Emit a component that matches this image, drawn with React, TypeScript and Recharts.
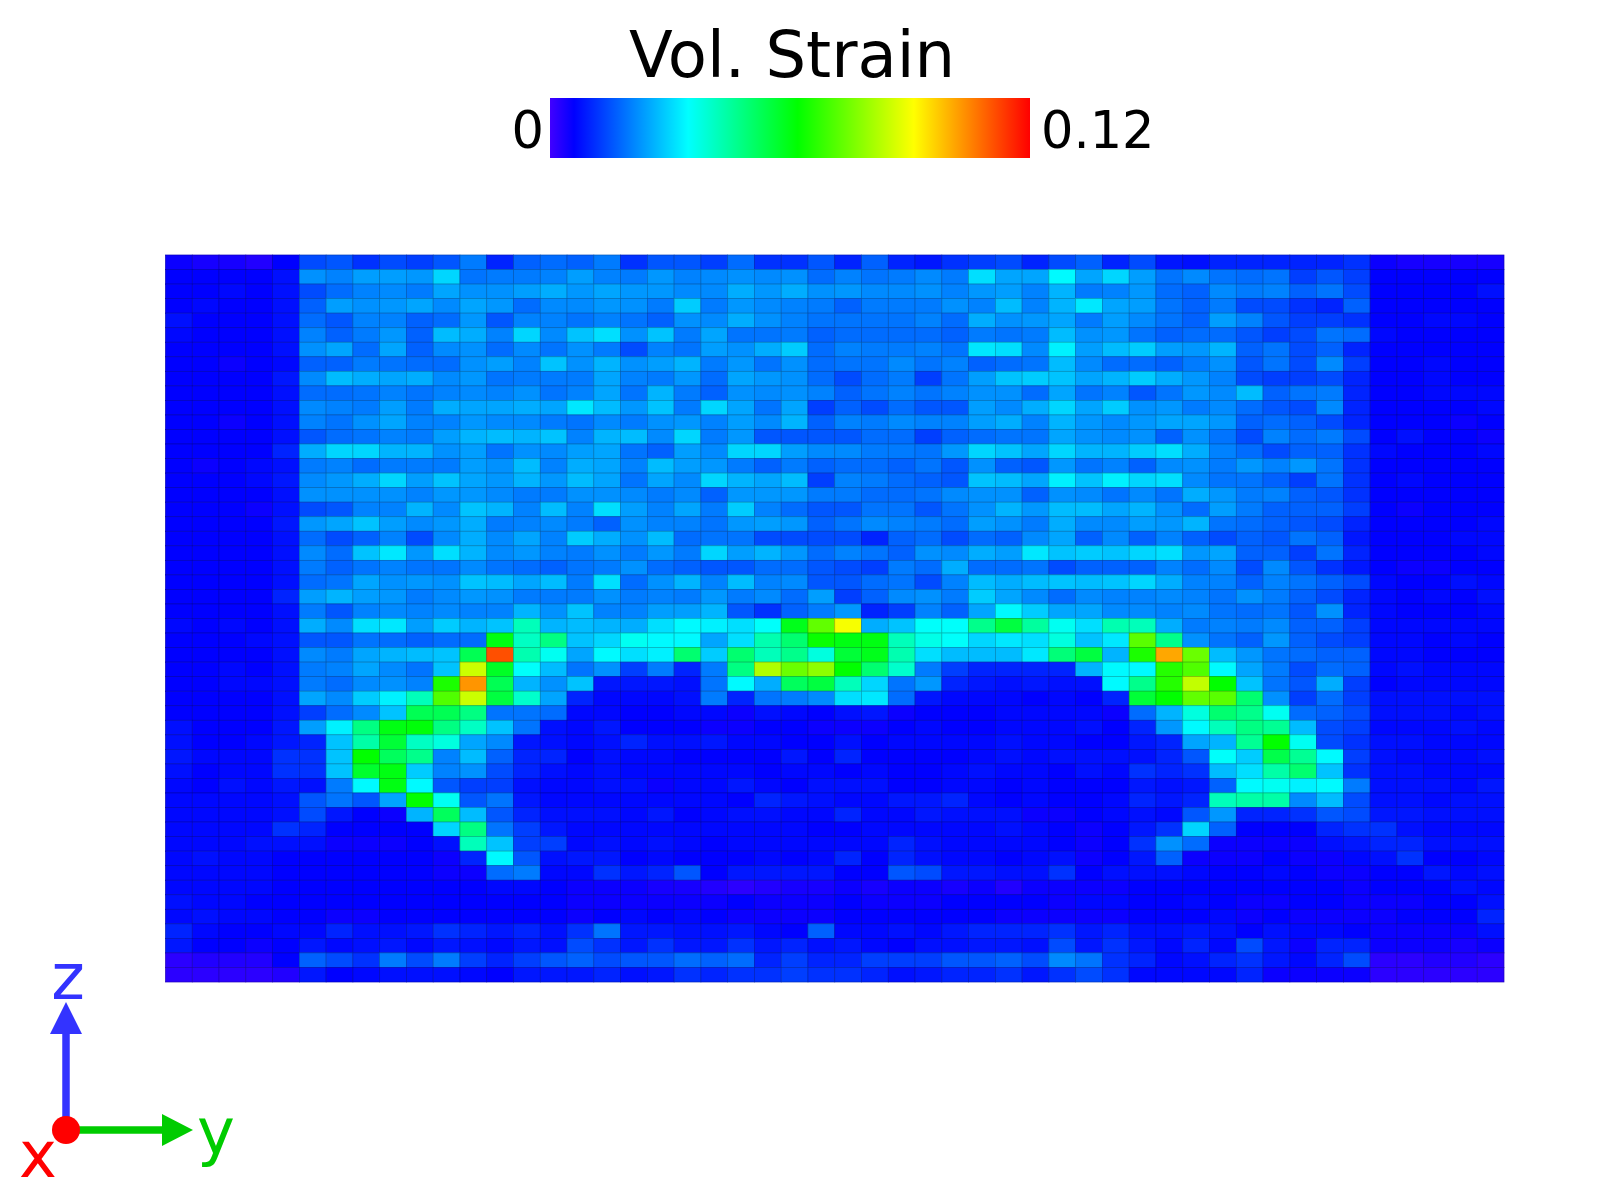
import { ScatterChart, Scatter, XAxis, YAxis } from "recharts";

const STRAIN_MAX = 120; // table values are strain x 1000

// one row per z layer, top of the picture first, 50 values along y
const strainRows: number[][] = [
  [5,4,4,3,6,13,14,11,13,12,14,18,10,15,16,15,18,11,14,14,12,16,11,11,14,10,15,10,9,11,12,13,10,13,15,10,13,9,8,10,10,10,10,10,11,5,4,4,4,4],
  [6,6,6,6,8,21,19,23,23,22,30,17,18,18,19,23,19,18,22,19,20,21,20,21,16,19,17,18,20,18,31,24,24,34,24,30,23,17,20,17,16,17,12,14,12,6,6,6,6,6],
  [6,6,7,6,8,13,16,19,20,18,24,21,21,23,25,22,24,22,22,20,20,25,22,25,21,22,20,20,21,19,22,23,19,26,18,19,22,16,15,20,18,19,15,17,13,6,6,6,6,8],
  [6,7,6,6,8,15,23,21,22,24,20,24,22,16,20,20,22,21,18,29,18,22,20,19,18,15,18,18,18,21,19,27,19,26,32,24,23,17,15,18,13,13,11,10,15,6,6,6,6,6],
  [8,6,6,6,8,16,14,19,19,15,16,22,14,19,19,17,19,17,15,21,20,25,21,19,17,17,17,17,19,16,25,21,22,24,18,23,20,17,15,23,19,14,12,12,11,6,6,7,7,6],
  [7,6,6,6,8,19,15,18,22,15,27,25,19,30,20,28,31,21,28,18,24,17,17,18,15,16,16,16,16,15,18,17,18,27,21,22,17,15,16,16,14,12,13,17,16,7,6,6,6,6],
  [6,6,6,6,8,21,24,16,24,15,20,21,16,20,17,21,18,13,19,17,23,21,25,29,16,19,18,18,19,17,32,31,20,33,23,27,29,23,22,26,15,17,13,15,10,6,6,6,6,6],
  [6,6,5,6,7,15,15,18,17,16,16,21,23,19,28,21,26,21,23,26,18,22,17,21,16,17,17,20,17,19,15,16,17,27,20,16,16,15,18,21,14,17,13,20,12,6,6,7,6,6],
  [6,6,6,6,9,20,27,25,24,25,20,22,17,18,18,18,24,19,18,22,16,24,22,21,16,13,16,18,12,17,23,28,29,28,24,26,29,25,22,19,13,12,12,13,10,6,6,7,6,6],
  [6,6,6,6,8,16,16,17,19,17,19,20,19,21,17,19,24,17,26,18,15,21,20,21,19,15,17,19,17,19,21,21,16,24,17,19,14,17,22,20,27,15,17,18,10,6,6,7,7,7],
  [6,6,6,6,8,20,19,18,23,18,25,24,24,25,24,32,27,22,28,18,30,24,17,24,12,15,13,16,14,14,23,20,25,30,24,29,21,22,18,20,16,14,13,20,10,6,6,6,6,7],
  [6,6,5,6,8,19,17,21,24,19,19,22,20,20,18,17,20,18,21,22,19,23,20,26,15,19,18,20,19,19,23,25,19,26,22,20,22,24,24,22,15,16,15,13,10,6,6,6,5,6],
  [6,6,6,6,8,14,16,17,19,18,23,26,27,26,28,19,26,27,20,30,18,22,14,14,14,14,16,16,12,15,16,17,17,24,21,20,21,15,21,17,13,19,16,18,13,6,8,6,6,5],
  [6,6,6,6,10,25,30,30,26,26,21,23,17,21,20,23,24,17,15,23,20,30,30,23,20,20,18,18,17,22,30,28,24,30,26,26,29,31,25,19,16,13,15,15,11,7,6,6,6,7],
  [6,5,6,7,8,18,19,16,18,18,18,23,21,27,19,25,24,19,27,23,22,18,15,18,15,16,16,15,17,14,21,15,14,22,17,19,15,20,21,18,22,19,22,17,11,6,6,6,6,6],
  [6,6,6,7,9,20,22,25,30,23,28,24,22,26,22,27,24,17,24,20,30,26,24,27,12,19,18,16,15,14,28,27,24,33,28,33,30,31,20,17,17,15,12,17,11,6,7,6,6,6],
  [6,6,6,6,8,21,21,21,21,19,22,22,20,18,18,21,21,20,18,20,15,22,22,22,18,18,16,16,17,20,21,21,15,21,20,17,20,17,25,22,18,19,15,14,11,6,6,6,6,6],
  [6,6,6,5,8,13,14,19,19,26,20,28,26,19,27,19,31,23,19,24,18,29,19,16,14,14,17,17,14,17,21,26,22,27,27,24,26,21,16,23,18,15,15,15,12,6,5,6,6,6],
  [6,6,6,6,9,22,24,28,23,20,22,25,18,19,20,18,15,21,19,19,17,22,23,22,15,17,20,19,18,16,23,21,18,25,20,20,23,22,26,17,16,15,14,13,10,6,6,6,6,7],
  [6,6,6,6,8,16,13,15,19,13,20,25,20,24,19,29,25,21,27,16,17,17,13,13,13,13,10,15,16,13,16,15,20,24,15,20,15,19,15,13,15,14,17,15,9,6,6,6,7,7],
  [6,6,6,6,8,20,16,28,32,22,31,26,20,22,19,18,21,18,22,18,30,23,26,22,16,19,17,15,21,20,25,23,32,28,29,28,30,31,22,24,15,15,12,17,10,6,6,6,6,7],
  [6,6,6,6,8,18,15,17,19,17,17,20,17,16,15,17,18,21,16,15,14,14,16,16,14,13,12,18,16,25,16,16,17,13,15,15,15,19,16,20,13,20,14,11,9,6,5,5,6,6],
  [6,6,6,6,8,16,17,24,21,22,21,28,27,24,27,18,31,16,21,26,19,27,19,20,14,14,16,17,13,19,27,25,27,28,27,28,30,25,19,19,15,19,17,15,13,7,6,6,8,7],
  [6,6,6,6,10,23,26,23,22,18,20,22,21,18,18,18,21,18,19,18,22,18,20,16,23,12,15,20,21,18,29,24,20,16,20,19,19,20,19,17,21,18,15,13,10,7,6,7,6,8],
  [6,6,6,6,8,18,14,19,20,19,20,19,19,26,21,28,19,19,23,23,26,14,11,15,18,22,10,12,19,15,24,34,29,24,24,20,20,19,20,17,16,17,14,21,10,7,6,6,6,7],
  [7,6,7,6,8,25,20,31,32,23,29,26,28,42,26,27,26,25,31,34,33,31,35,59,73,90,25,28,35,35,47,55,45,36,31,43,42,25,18,19,18,20,15,15,12,7,7,7,7,7],
  [6,6,6,7,8,14,14,17,16,15,16,16,60,41,48,28,30,36,34,34,24,31,43,50,63,60,60,42,37,35,30,32,31,38,28,32,72,47,21,17,15,22,15,13,12,7,7,6,7,6],
  [6,6,6,6,8,20,18,24,26,27,28,53,111,43,36,24,34,31,33,50,29,50,42,47,38,56,59,43,31,27,27,27,32,49,55,26,65,101,74,27,22,17,16,15,15,7,7,6,6,6],
  [6,6,7,6,8,18,19,24,20,17,28,85,58,35,27,17,21,12,18,10,18,48,82,74,78,62,50,40,18,12,10,10,10,10,26,34,34,66,71,34,24,18,13,16,15,7,8,7,7,7],
  [6,6,7,7,8,18,16,20,21,19,65,103,53,26,21,28,9,9,9,8,17,34,25,52,55,42,30,17,22,10,9,8,9,8,8,34,47,66,84,62,28,17,14,25,12,6,7,7,7,7],
  [6,6,6,6,8,24,20,29,33,42,71,85,55,40,24,10,7,7,7,8,18,10,17,18,20,31,32,16,9,7,7,7,6,7,6,10,56,62,73,72,50,21,12,16,12,8,8,8,8,8],
  [6,6,6,6,8,12,16,20,28,53,53,48,17,17,16,7,7,6,6,7,7,5,8,7,6,8,9,5,6,6,6,7,7,7,7,5,16,26,38,50,47,36,16,15,13,8,8,8,7,8],
  [8,6,6,6,9,23,33,48,60,61,48,41,28,17,8,7,9,6,6,6,5,5,6,6,5,5,5,6,7,6,6,7,7,7,8,6,10,22,34,42,48,46,27,13,12,7,7,7,8,7],
  [8,6,6,7,9,10,28,44,56,41,38,24,20,9,8,7,8,10,8,8,9,7,7,6,6,8,6,7,7,7,7,8,7,7,6,6,9,10,24,26,46,62,36,13,11,8,8,7,7,7],
  [9,7,7,7,11,11,28,62,52,47,19,27,15,10,10,6,8,7,7,6,6,6,6,9,6,10,6,6,6,6,7,8,7,8,8,8,8,10,14,35,29,54,46,34,12,8,7,7,7,8],
  [8,6,7,7,11,11,28,57,60,29,19,21,13,10,8,7,8,7,7,7,7,7,6,7,7,6,7,6,6,7,8,7,7,6,8,7,11,10,11,27,31,44,50,28,11,8,8,7,7,7],
  [7,6,8,7,9,8,18,34,60,34,14,12,12,8,7,7,8,8,5,7,7,9,7,6,8,8,8,6,6,7,7,6,7,6,6,6,9,8,9,15,34,36,33,34,18,8,8,8,7,9],
  [7,7,7,7,8,14,17,14,24,62,36,14,17,9,7,7,7,7,7,7,7,6,10,9,8,7,7,9,9,10,7,6,7,6,6,7,10,9,10,42,44,44,20,27,13,8,8,7,8,8],
  [7,7,7,7,8,13,9,6,5,26,52,27,14,10,8,8,8,7,9,6,7,8,8,7,7,10,7,7,9,8,8,8,5,5,6,7,8,7,14,22,10,10,11,14,13,9,9,8,8,8],
  [7,7,7,7,11,10,6,6,6,6,30,48,17,12,9,7,7,7,7,7,7,7,7,7,6,6,7,7,7,7,7,8,7,6,5,6,9,11,30,15,6,6,6,10,11,11,8,7,7,7],
  [7,7,7,8,8,8,5,5,5,6,8,42,28,12,12,7,8,7,8,7,6,7,7,7,7,7,7,10,8,7,7,7,7,6,5,6,11,21,16,5,5,5,5,8,9,10,10,8,8,8],
  [7,8,7,7,6,6,6,6,6,6,5,10,34,14,8,9,9,6,7,6,6,6,7,6,7,10,6,10,8,7,7,6,7,8,5,6,9,15,5,5,5,6,5,5,7,8,11,6,6,7],
  [7,7,7,7,6,6,6,6,6,6,5,5,16,18,7,7,11,9,10,14,6,9,9,9,9,6,6,14,13,9,9,8,8,11,6,8,8,8,7,6,6,7,6,5,5,6,6,9,7,8],
  [7,7,7,7,6,6,6,6,6,6,6,6,7,7,6,5,5,5,4,4,3,2,3,4,4,5,4,5,5,4,5,3,5,5,5,5,6,6,6,6,6,6,6,6,5,6,6,6,8,7],
  [8,7,7,6,6,6,6,6,6,6,6,6,6,6,6,5,5,5,5,5,5,6,5,5,5,6,5,5,5,6,6,6,6,5,7,7,6,6,7,6,5,5,6,6,5,5,5,6,6,8],
  [7,8,7,7,6,6,5,5,6,6,6,6,6,6,6,5,6,7,6,7,6,5,5,5,5,6,6,6,6,6,6,5,5,5,5,5,6,6,6,7,5,6,5,5,5,5,6,6,6,10],
  [10,7,6,6,7,7,10,8,8,9,11,10,9,10,8,11,17,9,9,8,8,9,7,6,15,7,7,8,7,9,10,10,10,11,9,10,8,8,9,8,6,8,7,7,6,5,5,5,5,8],
  [9,6,6,5,6,9,7,8,9,7,9,8,7,9,8,13,11,9,11,9,9,11,9,10,8,9,7,6,8,8,9,9,8,13,9,11,9,7,10,7,13,9,5,10,10,5,5,5,4,5],
  [2,3,3,3,6,15,13,11,18,13,18,12,10,12,14,15,13,14,14,16,15,16,10,12,10,10,12,12,12,14,14,15,13,20,17,11,10,7,8,10,11,9,7,10,13,2,2,3,3,2],
  [2,2,2,2,3,9,6,7,8,8,8,7,6,9,9,9,10,8,9,11,10,11,11,12,11,11,10,8,9,10,10,11,9,11,13,11,7,7,7,7,10,5,5,5,5,2,2,2,2,2],
];

// colour bar: [position 0..1, r, g, b]
const colorStops: number[][] = [
  [0, 65, 0, 255],
  [0.05, 0, 0, 255],
  [0.288, 0, 255, 255],
  [0.516, 0, 255, 0],
  [0.758, 255, 255, 0],
  [1, 255, 0, 0],
];

// my readings of the blue cells came out low, so the cells get extra stops there
const cellStops: number[][] = [
  [0, 65, 0, 255],
  [0.05, 0, 0, 255],
  [0.075, 0, 22, 255],
  [0.108, 0, 75, 255],
  [0.133, 0, 108, 255],
  [0.167, 0, 138, 255],
  [0.2, 0, 165, 255],
  [0.233, 0, 195, 255],
  [0.267, 0, 232, 255],
  [0.288, 0, 255, 255],
  [0.516, 0, 255, 0],
  [0.758, 255, 255, 0],
  [1, 255, 0, 0],
];

const colorBarTicks = ["0", "0.12"];
const FONT = "DejaVu Sans";

const W = 1600;
const H = 1200;
const PLOT = { left: 165.5, right: 1504, top: 255, bottom: 982 };
const CELL_W = (PLOT.right - PLOT.left) / 50;
const CELL_H = (PLOT.bottom - PLOT.top) / 50;

function strainRgb(v: number) {
  const t = Math.min(1, Math.max(0, v / STRAIN_MAX));
  for (let i = 1; i < cellStops.length; i++) {
    const a = cellStops[i - 1];
    const b = cellStops[i];
    if (t <= b[0]) {
      const f = (t - a[0]) / (b[0] - a[0]);
      return [1, 2, 3].map((k) => Math.round(a[k] + (b[k] - a[k]) * f));
    }
  }
  return [255, 0, 0];
}

const cells = strainRows.flatMap((row, r) =>
  row.map((strain, c) => ({ y: c + 0.5, z: r + 0.5, strain })),
);

function CellShape(props: any) {
  const { cx, cy, payload } = props;
  const [r, g, b] = strainRgb(payload.strain);
  return (
    <rect
      x={cx - CELL_W / 2}
      y={cy - CELL_H / 2}
      width={CELL_W}
      height={CELL_H}
      fill={`rgb(${r},${g},${b})`}
      stroke={`rgb(${r * 0.72},${g * 0.72},${b * 0.72})`}
      strokeWidth={0.7}
    />
  );
}

export default function App() {
  return (
    <div style={{ position: "absolute", left: 0, top: 0, width: W, height: H, background: "#fff" }}>
      <ScatterChart
        width={W}
        height={H}
        margin={{
          left: PLOT.left,
          right: W - PLOT.right,
          top: PLOT.top,
          bottom: H - PLOT.bottom,
        }}
      >
        <defs>
          <linearGradient id="strainBar" x1="0" x2="1" y1="0" y2="0">
            {colorStops.map((s) => (
              <stop key={s[0]} offset={s[0]} stopColor={`rgb(${s[1]},${s[2]},${s[3]})`} />
            ))}
          </linearGradient>
        </defs>
        <XAxis type="number" dataKey="y" domain={[0, 50]} hide />
        <YAxis type="number" dataKey="z" domain={[0, 50]} reversed hide />
        <Scatter data={cells} shape={CellShape} isAnimationActive={false} />

        <text x={792} y={77} textAnchor="middle" fontFamily={FONT} fontSize={64} fill="#000">
          Vol. Strain
        </text>
        <rect x={550} y={98} width={480} height={60} fill="url(#strainBar)" />
        <text x={544} y={148} textAnchor="end" fontFamily={FONT} fontSize={51} fill="#000">
          {colorBarTicks[0]}
        </text>
        <text x={1041} y={148} fontFamily={FONT} fontSize={51} fill="#000">
          {colorBarTicks[1]}
        </text>

        {/* orientation triad */}
        <line x1={66} y1={1130} x2={66} y2={1030} stroke="#3333ff" strokeWidth={7.5} />
        <polygon points="66,1002 50,1034 82,1034" fill="#3333ff" />
        <text x={68} y={999} textAnchor="middle" fontFamily={FONT} fontSize={64} fill="#3333ff">
          z
        </text>
        <line x1={66} y1={1130} x2={165} y2={1130} stroke="#00cc00" strokeWidth={7.5} />
        <polygon points="193,1130 162,1114 162,1146" fill="#00cc00" />
        <text x={197} y={1154} fontFamily={FONT} fontSize={64} fill="#00cc00">
          y
        </text>
        <circle cx={66} cy={1130} r={14} fill="#ff0000" />
        <text x={38} y={1177} textAnchor="middle" fontFamily={FONT} fontSize={64} fill="#ff0000">
          x
        </text>
      </ScatterChart>
    </div>
  );
}
